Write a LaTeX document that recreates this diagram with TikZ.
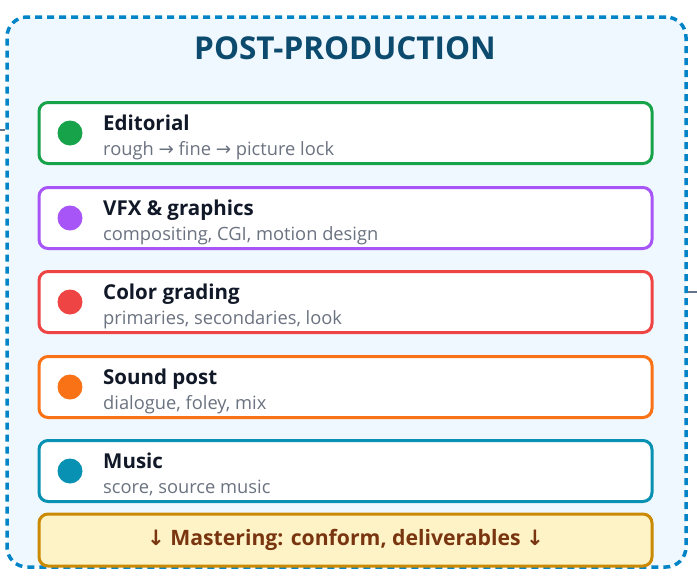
\documentclass[tikz,border=0pt]{standalone}
\usepackage{fontspec}
\setmainfont{Open Sans}
\newfontfamily\arrowfont{DejaVu Sans}
\definecolor{frame_c}{HTML}{0284C7}
\definecolor{frame_bg}{HTML}{F0F8FF}
\definecolor{title_c}{HTML}{0C4A6E}
\definecolor{link_c}{HTML}{64748B}
\definecolor{name_c}{HTML}{111827}
\definecolor{sub_c}{HTML}{6B7280}
\definecolor{ed_c}{HTML}{16A34A}
\definecolor{vfx_c}{HTML}{A855F7}
\definecolor{col_c}{HTML}{EF4444}
\definecolor{snd_c}{HTML}{F97316}
\definecolor{mus_c}{HTML}{0891B2}
\definecolor{mst_bg}{HTML}{FEF3C7}
\definecolor{mst_c}{HTML}{CA8A04}
\definecolor{mst_t}{HTML}{78350F}
\usepackage{tikz}
\usetikzlibrary{positioning}

\begin{document}
\begin{tikzpicture}[
			x=1pt, y=-1pt,
			frame/.style = {draw=frame_c, line width=3.5pt, dash pattern=on 7pt off 5pt, fill=frame_bg, rounded corners=20pt, minimum width=679pt, minimum height=550pt},
			task/.style = {draw=#1, line width=3pt, fill=white, rounded corners=9pt, minimum width=613pt, minimum height=61pt},
			dot/.style = {circle, fill=#1, minimum size=25pt, inner sep=0pt},
			tname/.style = {anchor=base west, inner sep=0pt, text=name_c, font=\fontsize{20.5}{24}\selectfont\bfseries},
			tsub/.style = {anchor=base west, inner sep=0pt, text=sub_c, font=\fontsize{18.3}{22}\selectfont},
			link/.style = {draw=link_c, line width=2pt},
			]
			\useasboundingbox (0,0) rectangle (697,579);
			% frame
			\node[frame] (post) at (346.5,292) {};
			\node[text=title_c, font=\fontsize{31.5}{36}\selectfont\bfseries] (title) at (345,48) {POST-PRODUCTION};
			% tasks
			\node[task=ed_c] (ed) at (345.5,133) {};
			\node[dot=ed_c] (ed-dot) at (70,133) {};
			\node[tname] (ed-name) at (103,130) {Editorial};
			\node[tsub] (ed-sub) at (103,155) {rough {\arrowfont →} fine {\arrowfont →} picture lock};

			\node[task=vfx_c] (vfx) at (345.5,218) {};
			\node[dot=vfx_c] (vfx-dot) at (70,218) {};
			\node[tname] (vfx-name) at (103,215) {VFX \& graphics};
			\node[tsub] (vfx-sub) at (103,240) {compositing, CGI, motion design};

			\node[task=col_c] (col) at (345.5,302) {};
			\node[dot=col_c] (col-dot) at (70,302) {};
			\node[tname] (col-name) at (103,299) {Color grading};
			\node[tsub] (col-sub) at (103,324) {primaries, secondaries, look};

			\node[task=snd_c] (snd) at (345.5,387) {};
			\node[dot=snd_c] (snd-dot) at (70,387) {};
			\node[tname] (snd-name) at (103,384) {Sound post};
			\node[tsub] (snd-sub) at (103,409) {dialogue, foley, mix};

			\node[task=mus_c] (mus) at (345.5,471) {};
			\node[dot=mus_c] (mus-dot) at (70,471) {};
			\node[tname] (mus-name) at (103,468) {Music};
			\node[tsub] (mus-sub) at (103,493) {score, source music};
			% mastering
			\node[draw=mst_c, line width=3pt, fill=mst_bg, rounded corners=9pt, minimum width=613pt, minimum height=52pt, text=mst_t, font=\fontsize{21.2}{25}\selectfont\bfseries] (mst) at (345.5,540) {{\arrowfont ↓} Mastering: conform, deliverables {\arrowfont ↓}};
			% edges
			\coordinate (in) at (0,130);
			\coordinate (out) at (697,292);
			\path[link]
			(in) -- (post.west |- in)
			(post.east |- out) -- (out)
			;
		\end{tikzpicture}
\end{document}
